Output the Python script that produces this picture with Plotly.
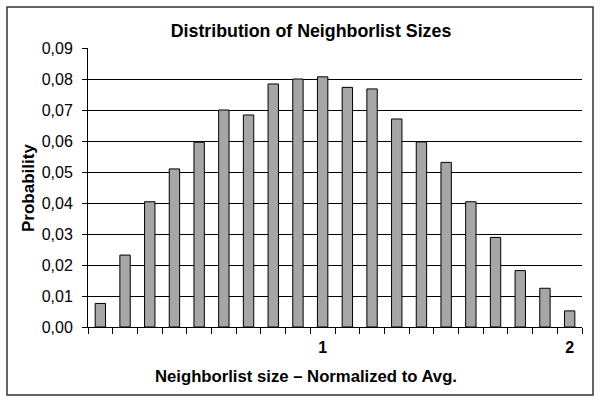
import plotly.graph_objects as go

bins = [f"{0.05 + 0.1 * i:.2f}" for i in range(20)]
probability = [0.0076, 0.0232, 0.0404, 0.0510, 0.0596, 0.0700, 0.0684, 0.0784, 0.0800, 0.0807,
               0.0773, 0.0768, 0.0671, 0.0597, 0.0531, 0.0404, 0.0289, 0.0182, 0.0125, 0.0052]
tick_text = ["", "", "", "", "", "", "", "", "", "<b>1</b>",
             "", "", "", "", "", "", "", "", "", "<b>2</b>"]
y_ticks = [0.00, 0.01, 0.02, 0.03, 0.04, 0.05, 0.06, 0.07, 0.08, 0.09]

L, R, T, B = 88, 18, 48, 77
W, H = 600, 404
pw, ph = W - L - R, H - T - B

def px(x):
    return (x - L) / pw

def py(y):
    return (H - B - y) / ph

FONT = "Liberation Sans, Arial, sans-serif"

fig = go.Figure(go.Bar(
    x=bins, y=probability,
    marker=dict(color="#a6a6a6", line=dict(color="#000000", width=1)),
))

fig.update_layout(
    width=W, height=H,
    margin=dict(l=L, r=R, t=T, b=B, autoexpand=False),
    paper_bgcolor="white", plot_bgcolor="white",
    bargap=0.58,
    separators=", ",
    font=dict(family=FONT, color="#000000"),
    title=dict(text="<b>Distribution of Neighborlist Sizes</b>", xref="container",
               x=311 / W, xanchor="center",
               y=1 - 31 / H, yanchor="middle", font=dict(size=17.8)),
    showlegend=False,
    shapes=[dict(type="rect", xref="paper", yref="paper",
                 x0=px(7), x1=px(593), y0=py(395), y1=py(7),
                 line=dict(color="#333333", width=1.5), layer="below")],
    annotations=[
        dict(text="<b>Neighborlist size \u2013 Normalized to Avg.</b>", xref="paper", yref="paper",
             x=px(306), y=py(376), xanchor="center", yanchor="middle", showarrow=False,
             font=dict(size=16.7)),
        dict(text="<b>Probability</b>", xref="paper", yref="paper", textangle=-90,
             x=px(28), y=py(188), xanchor="center", yanchor="middle", showarrow=False,
             font=dict(size=17)),
    ],
)

fig.update_xaxes(
    type="category", tickmode="array", tickvals=bins, ticktext=tick_text,
    tickson="boundaries", ticks="outside", ticklen=6, tickcolor="#000000",
    showline=True, linecolor="#000000", linewidth=1, automargin=False,
    showgrid=False, tickfont=dict(size=16, family=FONT), ticklabelstandoff=6,
)

fig.update_yaxes(
    range=[0, 0.09], tickmode="array", tickvals=y_ticks, tickformat=".2f",
    ticks="outside", ticklen=5, tickcolor="#000000",
    showline=True, linecolor="#000000", linewidth=1, automargin=False,
    showgrid=True, gridcolor="#000000", gridwidth=1,
    zeroline=False, tickfont=dict(size=16), ticklabelstandoff=6,
)

fig.write_html("out.html", config={"displayModeBar": False},
               post_script="document.body.style.margin='0';")
